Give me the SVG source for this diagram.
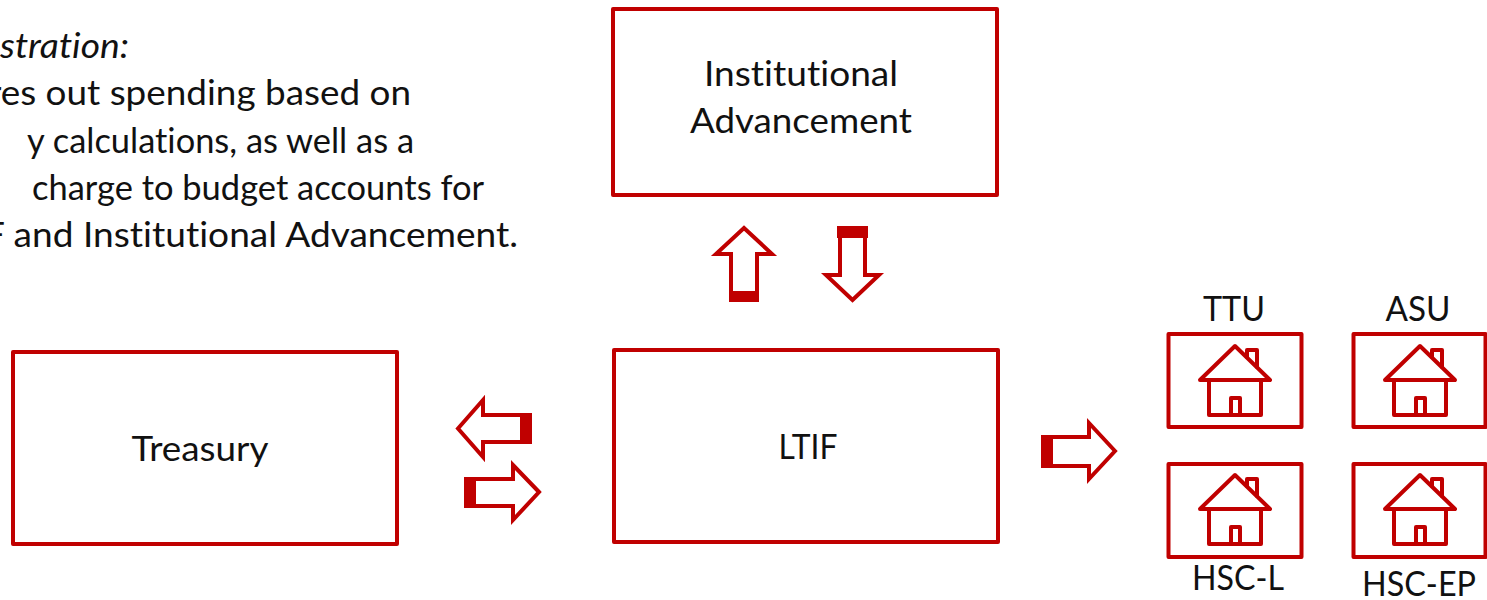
<svg xmlns="http://www.w3.org/2000/svg" width="1487" height="600" viewBox="0 0 1487 600">
<style>
text{font-family:"Lato","Open Sans",sans-serif;font-size:34px;fill:#111;font-variant-ligatures:none}
.c{text-anchor:middle}
.e{text-anchor:end}
.box{fill:#fff;stroke:#c00000;stroke-width:4;stroke-linejoin:round}
.arr{fill:#fff;stroke:#c00000;stroke-width:4;stroke-linejoin:miter}
.blk{fill:#c00000}
.h{fill:none;stroke:#c00000;stroke-width:4;stroke-linejoin:round;stroke-linecap:round}
</style>
<defs>
<g id="house">
<path class="h" d="M1200 380L1235 346L1270 380Z"/>
<path class="h" d="M1209 380V415H1261V380"/>
<path class="h" d="M1231 415V398H1240V415"/>
<path class="h" d="M1247 357V350H1257V367"/>
</g>
</defs>
<g id="note">
<text class="e" x="129" y="58" style="font-style:italic" textLength="129" lengthAdjust="spacingAndGlyphs">stration:</text>
<text class="e" x="411" y="105" textLength="423" lengthAdjust="spacingAndGlyphs">res out spending based on</text>
<text class="e" x="414" y="153" textLength="387" lengthAdjust="spacingAndGlyphs">y calculations, as well as a</text>
<text class="e" x="484" y="200" textLength="452" lengthAdjust="spacingAndGlyphs">charge to budget accounts for</text>
<text class="e" x="518" y="247" textLength="534" lengthAdjust="spacingAndGlyphs">F and Institutional Advancement.</text>
</g>
<g id="advancement">
<rect class="box" x="613" y="9" width="384" height="186"/>
<text class="c" x="801" y="86" textLength="194" lengthAdjust="spacingAndGlyphs">Institutional</text>
<text class="c" x="801" y="133" textLength="222" lengthAdjust="spacingAndGlyphs">Advancement</text>
</g>
<g id="treasury">
<rect class="box" x="13" y="352" width="384" height="192"/>
<text class="c" x="200" y="461" textLength="137" lengthAdjust="spacingAndGlyphs">Treasury</text>
</g>
<g id="ltif">
<rect class="box" x="614" y="350" width="384" height="192"/>
<text class="c" x="808" y="459" textLength="59" lengthAdjust="spacingAndGlyphs">LTIF</text>
</g>
<g id="ttu">
<rect class="box" x="1168.500" y="334" width="133" height="93"/>
<use href="#house"/>
<text class="c" x="1234" y="321" textLength="62" lengthAdjust="spacingAndGlyphs">TTU</text>
</g>
<g id="asu">
<rect class="box" x="1353.500" y="334" width="132" height="93"/>
<use href="#house" x="185"/>
<text class="c" x="1418" y="321" textLength="65" lengthAdjust="spacingAndGlyphs">ASU</text>
</g>
<g id="hsc-l">
<rect class="box" x="1168.500" y="464" width="133" height="93"/>
<use href="#house" y="129"/>
<text class="c" x="1238" y="590" textLength="92" lengthAdjust="spacingAndGlyphs">HSC-L</text>
</g>
<g id="hsc-ep">
<rect class="box" x="1353.500" y="464" width="132" height="93"/>
<use href="#house" x="185" y="129"/>
<text class="c" x="1419" y="596" textLength="114" lengthAdjust="spacingAndGlyphs">HSC-EP</text>
</g>
<g id="connectors">
<path class="arr" d="M744 228L772 254H757V300H731V254H716Z"/>
<rect class="blk" x="729" y="291" width="30" height="11"/>
<path class="arr" d="M852.500 300L879 275H865V232H840V275H826Z"/>
<rect class="blk" x="837" y="226" width="31" height="12"/>
<path class="arr" d="M458 428.500L483 400V415H530V442H483V457Z"/>
<rect class="blk" x="520" y="413" width="12" height="31"/>
<path class="arr" d="M539 492L513 465V479H466V506H513V520Z"/>
<rect class="blk" x="464" y="477" width="12" height="31"/>
<path class="arr" d="M1115 451L1089 423V437H1043V466H1089V479Z"/>
<rect class="blk" x="1041" y="436" width="12" height="30"/>
</g>
</svg>
